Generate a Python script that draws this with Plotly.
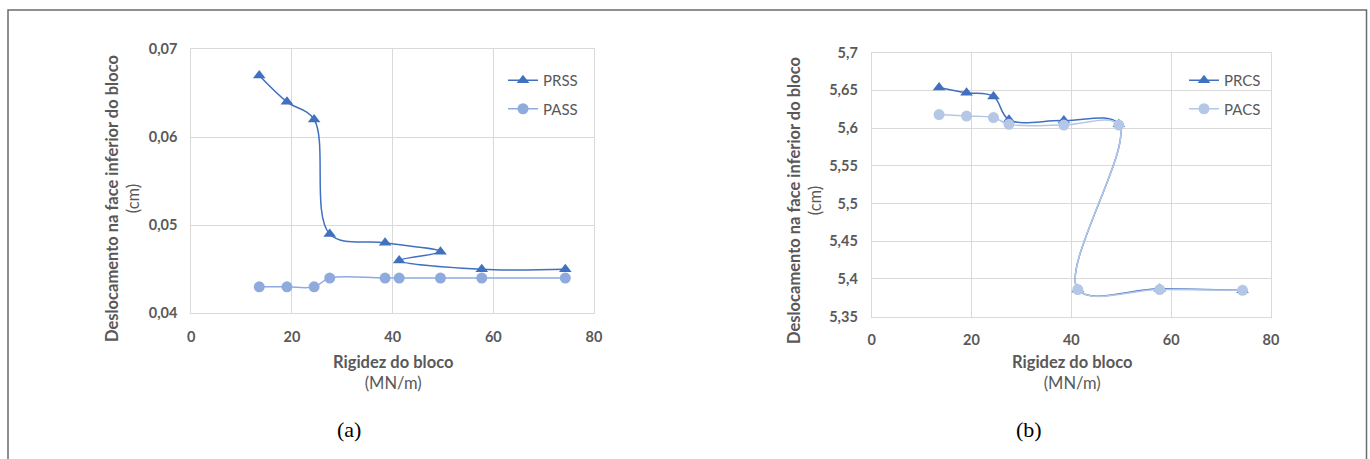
import plotly.graph_objects as go

W, H = 1370, 459

# ---- data (a) ----
x_a = [13.5, 19.0, 24.4, 27.5, 38.5, 49.5, 41.3, 57.7, 74.3]
prss = [0.067, 0.064, 0.062, 0.049, 0.048, 0.047, 0.046, 0.045, 0.045]
pass_ = [0.043, 0.043, 0.043, 0.044, 0.044, 0.044, 0.044, 0.044, 0.044]

# ---- data (b) ----
x_b = [13.5, 19.0, 24.4, 27.5, 38.5, 49.5, 41.3, 57.7, 74.3]
prcs = [5.654, 5.647, 5.642, 5.611, 5.610, 5.605, 5.386, 5.387, 5.385]
pacs = [5.618, 5.616, 5.614, 5.605, 5.604, 5.604, 5.386, 5.386, 5.385]

x_ticks = [0, 20, 40, 60, 80]
ya_ticks = [0.04, 0.05, 0.06, 0.07]
ya_text = ["0,04", "0,05", "0,06", "0,07"]
yb_ticks = [5.35, 5.4, 5.45, 5.5, 5.55, 5.6, 5.65, 5.7]
yb_text = ["5,35", "5,4", "5,45", "5,5", "5,55", "5,6", "5,65", "5,7"]

DARK = "#4070C0"
LIGHT_A = "#8FAADC"
LIGHT_B = "#B4C7E7"
GRID = "#D9D9D9"
TXT = "#595959"
FONT = "Lato"

def px(x):
    return x / W

def py(y):
    return 1 - y / H

fig = go.Figure()

fig.add_trace(go.Scatter(x=x_a, y=prss, name="PRSS", mode="lines+markers",
                         line=dict(color=DARK, width=1.5, shape="spline", smoothing=1),
                         marker=dict(symbol="triangle-up", size=11, color=DARK),
                         xaxis="x", yaxis="y", legend="legend", legendgroup="a1"))
fig.add_trace(go.Scatter(x=x_a, y=pass_, name="PASS", mode="lines+markers",
                         line=dict(color=LIGHT_A, width=1.5, shape="spline", smoothing=1),
                         marker=dict(symbol="circle", size=11, color=LIGHT_A),
                         xaxis="x", yaxis="y", legend="legend", legendgroup="a2"))
fig.add_trace(go.Scatter(x=x_b, y=prcs, name="PRCS", mode="lines+markers",
                         line=dict(color=DARK, width=1.5, shape="spline", smoothing=1),
                         marker=dict(symbol="triangle-up", size=11, color=DARK),
                         xaxis="x2", yaxis="y2", legend="legend2", legendgroup="b1"))
fig.add_trace(go.Scatter(x=x_b, y=pacs, name="PACS", mode="lines+markers",
                         line=dict(color=LIGHT_B, width=1.5, shape="spline", smoothing=1),
                         marker=dict(symbol="circle", size=11, color=LIGHT_B),
                         xaxis="x2", yaxis="y2", legend="legend2", legendgroup="b2"))

axis_common = dict(showgrid=True, gridcolor=GRID, gridwidth=1, zeroline=False,
                   showline=True, linecolor=GRID, linewidth=1, mirror=True, automargin=False,
                   ticks="", tickfont=dict(family=FONT, size=14.5, color=TXT, weight="bold"))

fig.update_layout(
    width=W, height=H, autosize=False,
    margin=dict(l=0, r=0, t=0, b=0, pad=0, autoexpand=False),
    paper_bgcolor="white", plot_bgcolor="white",
    showlegend=True,
    xaxis=dict(domain=[px(191.3), px(594)], range=[0, 80], tickvals=x_ticks,
               anchor="y", ticklabelstandoff=10, **axis_common),
    yaxis=dict(domain=[py(313.3), py(49)], range=[0.04, 0.07], tickvals=ya_ticks,
               ticktext=ya_text, anchor="x", ticklabelstandoff=10, **axis_common),
    xaxis2=dict(domain=[px(871.7), px(1271)], range=[0, 80], tickvals=x_ticks,
                anchor="y2", ticklabelstandoff=10, **axis_common),
    yaxis2=dict(domain=[py(316.7), py(52.7)], range=[5.35, 5.7], tickvals=yb_ticks,
                ticktext=yb_text, anchor="x2", ticklabelstandoff=10, **axis_common),
    legend=dict(x=px(503), y=py(64), xanchor="left", yanchor="top",
                bgcolor="rgba(0,0,0,0)", font=dict(family=FONT, size=15, color=TXT),
                traceorder="grouped", tracegroupgap=6, itemwidth=30),
    legend2=dict(x=px(1184), y=py(64), xanchor="left", yanchor="top",
                 bgcolor="rgba(0,0,0,0)", font=dict(family=FONT, size=15, color=TXT),
                 traceorder="grouped", tracegroupgap=6, itemwidth=30),
)

ann = []
ytitle = "<b>Deslocamento na face inferior do bloco</b><br>(cm)"
xtitle = "<b>Rigidez do bloco</b><br>(MN/m)"
for xc, yc in [(123, 199), (804, 201)]:
    ann.append(dict(text=ytitle, x=px(xc), y=py(yc), xref="paper", yref="paper",
                    showarrow=False, textangle=-90, xanchor="center", yanchor="middle",
                    font=dict(family=FONT, size=16.5, color=TXT)))
for xc in [392.5, 1071.5]:
    ann.append(dict(text=xtitle, x=px(xc), y=py(372), xref="paper", yref="paper",
                    showarrow=False, xanchor="center", yanchor="middle",
                    font=dict(family=FONT, size=16.5, color=TXT)))
for lbl, xc in [("(a)", 349), ("(b)", 1029)]:
    ann.append(dict(text=lbl, x=px(xc), y=py(429), xref="paper", yref="paper",
                    showarrow=False, xanchor="center", yanchor="middle",
                    font=dict(family="Liberation Serif", size=22, color="black")))
fig.update_layout(annotations=ann)

# outer frame (left, top, right)
fig.add_shape(type="path", xref="paper", yref="paper",
              path=f"M {px(8)} {py(470)} L {px(8)} {py(10)} L {px(1366.5)} {py(10)} L {px(1366.5)} {py(470)}",
              line=dict(color="#6B6B6B", width=1.5))

fig.write_html("out.html", config={"displayModeBar": False},
               post_script="document.body.style.margin='0';document.body.style.overflow='hidden';")
